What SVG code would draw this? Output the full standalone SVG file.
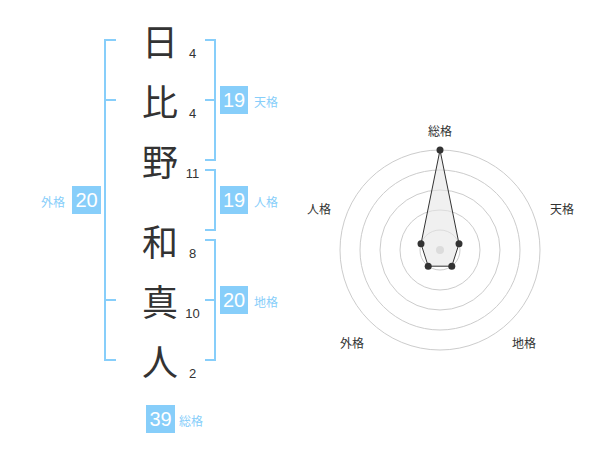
<svg xmlns="http://www.w3.org/2000/svg" width="600" height="470" viewBox="0 0 600 470">
<style>
.ch{font-family:"Noto Sans CJK JP","Noto Sans CJK SC",sans-serif;font-size:36px;fill:#333;text-anchor:middle;dominant-baseline:central}
.num{font-family:"Liberation Sans",Arial,sans-serif;font-size:13px;fill:#333;text-anchor:middle}
.br{fill:none;stroke:#87cefa;stroke-width:2}
.box{fill:#87cefa}
.bt{font-family:"Liberation Sans",Arial,sans-serif;font-size:20px;fill:#fff;text-anchor:middle}
.lb{font-family:"Noto Sans CJK JP","Noto Sans CJK SC",sans-serif;font-size:12px;fill:#87cefa;dominant-baseline:central}
.ring{fill:none;stroke:#ccc;stroke-width:1}
.rl{font-family:"Noto Sans CJK JP","Noto Sans CJK SC",sans-serif;font-size:12px;fill:#333;text-anchor:middle;dominant-baseline:central}
.pt{fill:#333}
</style>
<rect width="600" height="470" fill="#fff"/>
<g id="chars">
<text class="ch" x="160" y="40">日</text>
<text class="ch" x="160" y="100">比</text>
<text class="ch" x="160" y="160">野</text>
<text class="ch" x="160" y="240">和</text>
<text class="ch" x="160" y="300">真</text>
<text class="ch" x="160" y="360">人</text>
</g>
<g id="strokes">
<text class="num" x="192.5" y="57.7">4</text>
<text class="num" x="192.5" y="117.7">4</text>
<text class="num" x="192.5" y="177.7">11</text>
<text class="num" x="192.5" y="257.7">8</text>
<text class="num" x="192.5" y="317.7">10</text>
<text class="num" x="192.5" y="377.7">2</text>
</g>
<g id="connectors">
<path class="br" d="M116 40H105V360H116M105 100H116M105 300H116"/>
<path class="br" d="M205 40H215V160H205M205 100H215"/>
<path class="br" d="M205 170H215V230H205"/>
<path class="br" d="M205 240H215V360H205M205 300H215"/>
</g>
<g id="tenkaku">
<rect class="box" x="220" y="86" width="28" height="28"/>
<text class="bt" x="234" y="107.3">19</text>
<text class="lb" x="254" y="101">天格</text>
</g>
<g id="jinkaku">
<rect class="box" x="220" y="186" width="28" height="28"/>
<text class="bt" x="234" y="207.3">19</text>
<text class="lb" x="254" y="201">人格</text>
</g>
<g id="chikaku">
<rect class="box" x="220" y="286" width="28" height="28"/>
<text class="bt" x="234" y="307.3">20</text>
<text class="lb" x="254" y="301">地格</text>
</g>
<g id="gaikaku">
<rect class="box" x="72" y="186" width="29" height="28"/>
<text class="bt" x="86.5" y="207.3">20</text>
<text class="lb" x="41" y="201">外格</text>
</g>
<g id="soukaku">
<rect class="box" x="146" y="405" width="29" height="28"/>
<text class="bt" x="160.5" y="426.3">39</text>
<text class="lb" x="179" y="420">総格</text>
</g>
<g id="radar">
<circle class="ring" cx="440" cy="250" r="20"/>
<circle class="ring" cx="440" cy="250" r="40"/>
<circle class="ring" cx="440" cy="250" r="60"/>
<circle class="ring" cx="440" cy="250" r="80"/>
<circle class="ring" cx="440" cy="250" r="100"/>
<circle cx="440" cy="250" r="4" fill="#ccc"/>
<polygon points="440,150 459,243.8 451.8,266.2 428.2,266.2 421,243.8" fill="#e6e6e6" fill-opacity="0.6" stroke="#333" stroke-width="1"/>
<circle class="pt" cx="440" cy="150" r="3.5"/>
<circle class="pt" cx="459" cy="243.8" r="3.5"/>
<circle class="pt" cx="451.8" cy="266.2" r="3.5"/>
<circle class="pt" cx="428.2" cy="266.2" r="3.5"/>
<circle class="pt" cx="421" cy="243.8" r="3.5"/>
<text class="rl" x="440" y="130">総格</text>
<text class="rl" x="562" y="208.5">天格</text>
<text class="rl" x="319" y="208.5">人格</text>
<text class="rl" x="352" y="342">外格</text>
<text class="rl" x="524" y="342">地格</text>
</g>
</svg>
